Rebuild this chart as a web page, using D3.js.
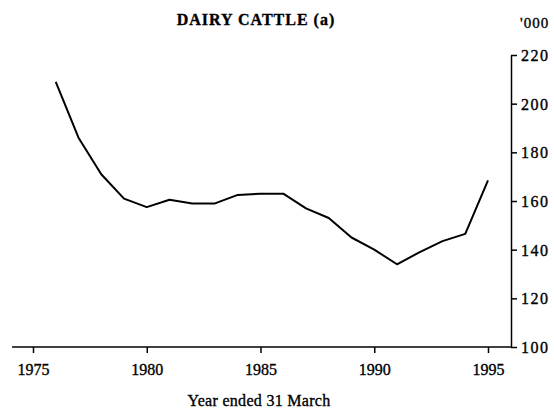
<!DOCTYPE html>
<html>
<head>
<meta charset="utf-8">
<script src="https://cdn.jsdelivr.net/npm/d3@7"></script>
<style>
  body { margin: 0; background: #fff; }
  text { font-family: "Liberation Serif", "Times New Roman", serif; fill: #000; stroke: #000; stroke-width: 0.35px; }
</style>
</head>
<body>
<script>
// chart data (thousands of dairy cattle)
var years = [1976, 1977, 1978, 1979, 1980, 1981, 1982, 1983, 1984, 1985,
             1986, 1987, 1988, 1989, 1990, 1991, 1992, 1993, 1994, 1995];
var cattle = [209, 186, 171, 161, 157.5, 160.5, 159, 159, 162.5, 163,
              163, 157, 153, 145, 140, 134, 139, 143.5, 146.5, 168.5];

var xTicks = [1975, 1980, 1985, 1990, 1995];
var yTicks = [100, 120, 140, 160, 180, 200, 220];

var width = 554;
var height = 414;

var svg = d3.select("body")
    .append("svg")
    .attr("width", width)
    .attr("height", height);

// scales
var xScale = d3.scaleLinear()
    .domain([1975, 1995])
    .range([33, 488]);

var yScale = d3.scaleLinear()
    .domain([100, 220])
    .range([347, 55]);

var axisX = 511;
var axisY = yScale(100);

// x axis, ticks hanging below the line
var xAxis = d3.axisBottom()
    .scale(xScale)
    .tickValues(xTicks)
    .tickFormat(d3.format("d"))
    .tickSize(6);

var gx = svg.append("g")
    .attr("transform", "translate(0," + axisY + ")")
    .call(xAxis);

gx.select(".domain").remove();
gx.selectAll("line").attr("stroke", "#000").attr("stroke-width", 1.5);
gx.selectAll("text")
    .attr("y", 28)
    .attr("dy", 0)
    .style("font-size", "16px")
    .style("font-family", "Liberation Serif, serif");

// bottom line runs from the left edge to the y axis
svg.append("line")
    .attr("x1", xScale(1974.08))
    .attr("x2", axisX)
    .attr("y1", axisY)
    .attr("y2", axisY)
    .attr("stroke", "#000")
    .attr("stroke-width", 1.5);

// y axis on the right
var yAxis = d3.axisRight()
    .scale(yScale)
    .tickValues(yTicks)
    .tickSize(6)
    .tickSizeOuter(0);

var gy = svg.append("g")
    .attr("transform", "translate(" + axisX + ",0)")
    .call(yAxis);

gy.select(".domain").attr("stroke", "#000").attr("stroke-width", 1.5);
gy.selectAll("line").attr("stroke", "#000").attr("stroke-width", 1.5);
gy.selectAll("text")
    .attr("x", 10)
    .attr("dy", "0.34em")
    .style("font-size", "16px")
    .style("letter-spacing", "1.5px")
    .style("font-family", "Liberation Serif, serif");

// the series line
var line = d3.line()
    .x(function(d, i) { return xScale(years[i]); })
    .y(function(d) { return yScale(d); });

svg.append("path")
    .datum(cattle)
    .attr("d", line)
    .attr("fill", "none")
    .attr("stroke", "#000")
    .attr("stroke-width", 2)
    .attr("stroke-linejoin", "round");

// titles and labels
svg.append("text")
    .attr("x", 256)
    .attr("y", 25)
    .attr("text-anchor", "middle")
    .attr("font-size", "16px")
    .attr("font-weight", "700")
    .style("letter-spacing", "1px")
    .text("DAIRY CATTLE (a)");

svg.append("text")
    .attr("x", 520)
    .attr("y", 28)
    .attr("font-size", "15px")
    .style("letter-spacing", "1px")
    .text("'000");

svg.append("text")
    .attr("x", 259)
    .attr("y", 406)
    .attr("text-anchor", "middle")
    .attr("font-size", "16px")
    .style("letter-spacing", "0.3px")
    .text("Year ended 31 March");
</script>
</body>
</html>
